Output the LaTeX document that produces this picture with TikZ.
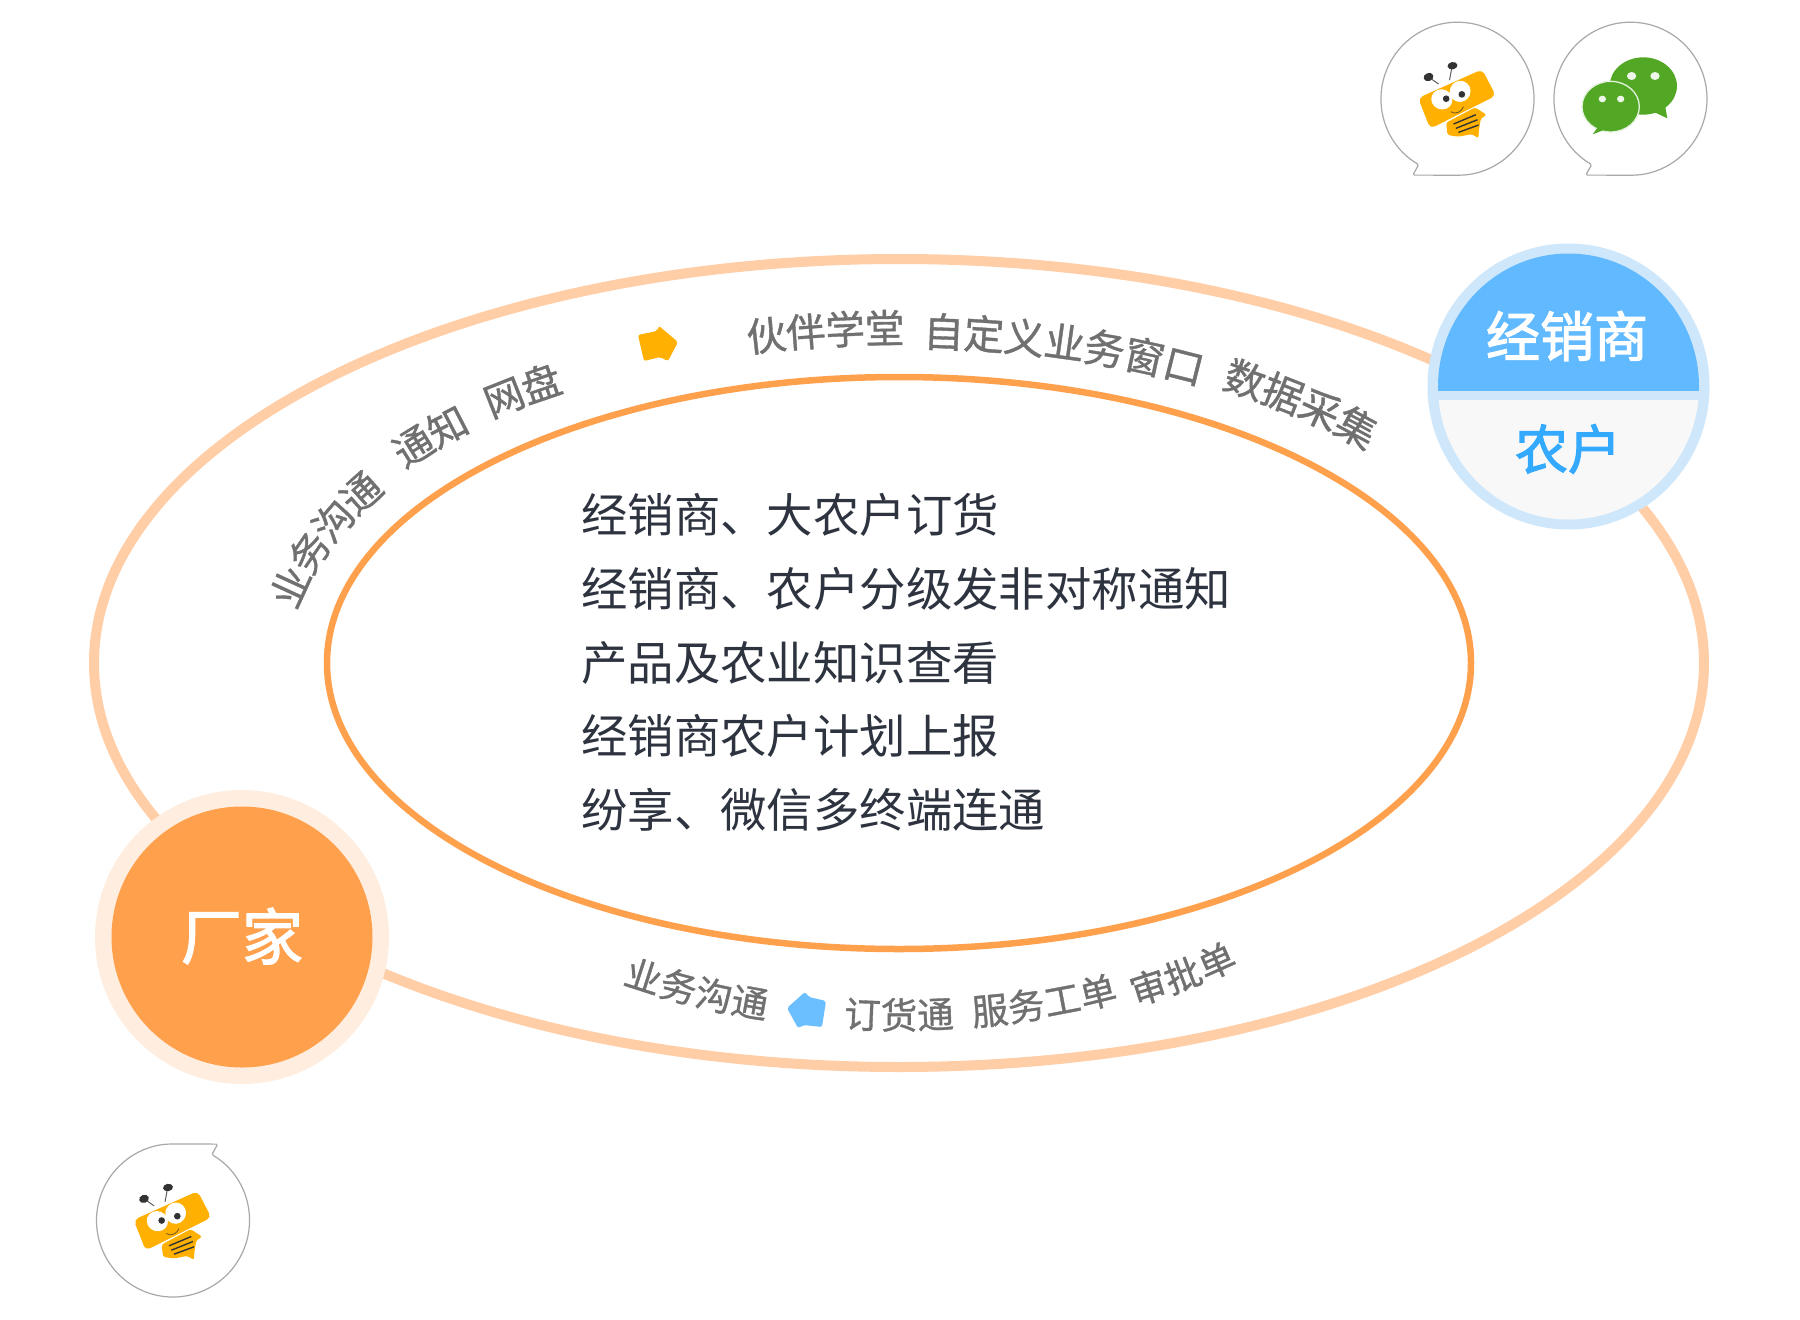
\documentclass[tikz,border=0pt]{standalone}
\usepackage{fontspec}
\setmainfont{Noto Sans CJK SC}
\newfontfamily\cjkheavy[FakeBold=2.2]{Noto Sans CJK SC}
\newfontfamily\cjkarc[FakeBold=0.9]{Noto Sans CJK SC}
\usetikzlibrary{decorations.text}
\definecolor{outerring}{HTML}{FFCDA6}
\definecolor{innerring}{HTML}{FFA04D}
\definecolor{orangefill}{HTML}{FFA04D}
\definecolor{orangehalo}{HTML}{FFEEDF}
\definecolor{bluehalo}{HTML}{CFE7FA}
\definecolor{bluefill}{HTML}{61B9FF}
\definecolor{greyfill}{HTML}{F8F8F8}
\definecolor{bluetext}{HTML}{33AAFF}
\definecolor{darktext}{HTML}{2E3340}
\definecolor{arctext}{HTML}{707070}
\definecolor{beeyellow}{HTML}{FFB000}
\definecolor{beedark}{HTML}{333333}
\definecolor{bubbleline}{HTML}{A8A8A8}
\definecolor{wxgreen}{HTML}{52A825}
\definecolor{markblue}{HTML}{6CBFFF}
\newcommand\curvetext[6]{% size, a, b, centre t, half span, text
  \path[decorate,decoration={text along path,text align=center,raise={(-0.38*#1)*1pt},
    text={|\cjkarc\fontsize{#1}{#1}\selectfont\color{arctext}|#6}}]
    plot[domain={#4-#5}:{#4+#5},samples=40,variable=\t]
    ({899+#2*cos(\t)},{663+#3*sin(\t)});
}
\newcommand\curvetextrev[6]{%
  \path[decorate,decoration={text along path,text align=center,raise={(-0.38*#1)*1pt},
    text={|\cjkarc\fontsize{#1}{#1}\selectfont\color{arctext}|#6}}]
    plot[domain={#4+#5}:{#4-#5},samples=40,variable=\t]
    ({899+#2*cos(\t)},{663+#3*sin(\t)});
}
\tikzset{
  linetext/.style={anchor=base west,inner sep=0pt,text=darktext,font=\fontsize{46.4}{46.4}\selectfont},
  discword/.style={inner sep=0pt,anchor=center},
  speech/.pic={
    \draw[bubbleline,line width=1.2pt,fill=white,rounded corners=1.5pt]
      (239.5:76.5pt) arc[start angle=239.5,end angle=-90,radius=76.5pt]
      -- (-44.7pt,-76.4pt) -- cycle;
  },
  beeicon/.pic={
    \begin{scope}[x=0.3333pt,y=-0.3333pt,shift={(-292,-296)}]
      \draw[beedark!80,line width=1pt] (235,252) -- (207,232);
      \draw[beedark!80,line width=1pt] (268,240) -- (276,198);
      \fill[beedark,rotate around={20:(205,231)}] (205,231) ellipse[x radius=15,y radius=12];
      \fill[beedark,rotate around={10:(277,197)}] (277,197) ellipse[x radius=15,y radius=11];
      \fill[beeyellow,rounded corners=2.5pt]
        (262,405) -- (258,368) -- (345,322) -- (380,345) -- (362,355)
        -- (356,392) -- (355,415) -- (335,402) -- (295,410) -- cycle;
      \fill[beeyellow,rounded corners=5pt] (174,294) -- (366,208) -- (407,287) -- (210,386) -- cycle;
      \fill[white,rotate around={-20:(245,298)}] (245,298) ellipse[x radius=32,y radius=30];
      \fill[white,rotate around={-20:(300,274)}] (300,274) ellipse[x radius=31,y radius=32];
      \fill[beedark] (258,296) circle[radius=10];
      \fill[beedark] (305,283) circle[radius=10];
      \draw[beedark!70!beeyellow,line width=0.8pt] (272,335) .. controls (285,345) and (305,335) .. (310,320);
      \draw[beedark,line width=1.4pt] (280,372) -- (347,344);
      \draw[beedark,line width=1.4pt] (287,385) -- (352,359);
      \draw[beedark,line width=1.4pt] (295,397) -- (355,375);
    \end{scope}
  }
}
\begin{document}
\begin{tikzpicture}[x=1pt,y=-1pt]
\useasboundingbox (0,0) rectangle (1800,1320);
\fill[white] (0,0) rectangle (1800,1320);
% rings
\draw[outerring,line width=10pt] (899,663) ellipse[x radius=805,y radius=404];
\draw[innerring,line width=6.5pt] (899,663) ellipse[x radius=572,y radius=286];
% arc words, top
\curvetext{39.5}{625}{335}{198.4}{30}{业务沟通}
\curvetext{39.5}{638}{335}{221.7}{14}{通知}
\curvetext{39.5}{650}{335}{233.8}{14}{网盘}
\curvetext{39.5}{640}{335}{263.1}{20}{伙伴学堂}
\curvetext{40.5}{640}{332}{286.6}{30}{自定义业务窗口}
\curvetext{40.5}{640}{337}{311.1}{22}{数据采集}
% arc words, bottom
\curvetextrev{36.5}{560}{352}{112}{20}{业务沟通}
\curvetextrev{36.5}{560}{352}{90}{18}{订货通}
\curvetextrev{36.5}{560}{352}{74.3}{22}{服务工单}
\curvetextrev{36.5}{560}{362}{58.5}{20}{审批单}
% small pointers
\fill[beeyellow,rounded corners=2pt] (638,335) -- (657,331) -- (659,326) -- (678,342) -- (668,361) -- (660,357) -- (644,361) -- cycle;
\fill[markblue,rounded corners=2pt] (787,1008) -- (805,992) -- (809,997) -- (826,1001) -- (822,1027) -- (804,1025) -- (798,1028) -- cycle;
% centre lines
\node[linetext] (l1) at (581,532.5) {经销商、大农户订货};
\node[linetext] (l2) at (581,606.5) {经销商、农户分级发非对称通知};
\node[linetext] (l3) at (581,680) {产品及农业知识查看};
\node[linetext] (l4) at (581,753.5) {经销商农户计划上报};
\node[linetext] (l5) at (581,827.5) {纷享、微信多终端连通};
% right disc
\fill[bluehalo] (1568.5,386.5) ellipse[x radius=141,y radius=143];
\begin{scope}
  \clip (1568.5,386.5) ellipse[x radius=130.5,y radius=133];
  \fill[bluefill] (1430,240) rectangle (1710,391);
  \fill[greyfill] (1430,400) rectangle (1710,530);
\end{scope}
\node[discword,text=white,font=\cjkheavy\fontsize{54}{54}\selectfont] (dealer) at (1567,336) {经销商};
\node[discword,text=bluetext,font=\cjkheavy\fontsize{53}{53}\selectfont] (farmer) at (1568,449) {农户};
% left disc
\fill[orangehalo] (242,937) circle[radius=147];
\fill[orangefill] (242,937) circle[radius=130.5];
\node[discword,text=white,font=\cjkheavy\fontsize{61}{61}\selectfont] (maker) at (242,936) {厂家};
% speech bubbles
\pic (b1) at (1457.5,98.7) {speech};
\pic (b2) at (1630.5,98.7) {speech};
\pic[rotate=180] (b3) at (173,1220.5) {speech};
\pic (bee1) at (1457.5,98.7) {beeicon};
\pic (bee2) at (173,1220.5) {beeicon};
% wechat icon
\begin{scope}[shift={(1360,0)},x=0.3333pt,y=-0.3333pt]
  \fill[wxgreen] (850,258) ellipse[x radius=101,y radius=86];
  \fill[wxgreen] (880,335) -- (922,355) -- (915,315) -- cycle;
  \fill[wxgreen,draw=white!85!wxgreen,line width=1.3pt] (752,320) ellipse[x radius=86,y radius=76];
  \fill[wxgreen] (715,380) -- (698,403) -- (745,385) -- cycle;
  \fill[white!90!wxgreen] (815,228) ellipse[x radius=14,y radius=12];
  \fill[white!90!wxgreen] (885,228) ellipse[x radius=14,y radius=12];
  \fill[white!90!wxgreen] (727,297) ellipse[x radius=11,y radius=10];
  \fill[white!90!wxgreen] (782,297) ellipse[x radius=11,y radius=10];
\end{scope}
\end{tikzpicture}
\end{document}
